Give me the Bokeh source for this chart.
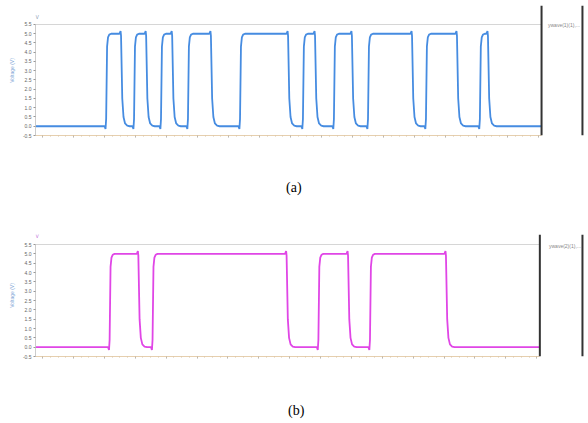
from bokeh.plotting import figure
from bokeh.models import (Span, Label, Legend, LegendItem, Div,
                          FixedTicker, SingleIntervalTicker)
from bokeh.layouts import column
from bokeh.embed import file_html
from bokeh.resources import INLINE

# ---------------- data ----------------
y_ticks = [-0.5, 0.0, 0.5, 1.0, 1.5, 2.0, 2.5, 3.0, 3.5, 4.0, 4.5, 5.0, 5.5]
y_tick_labels = ["-0.5", "0.0", "0.5", "1.0", "1.5", "2.0", "2.5",
                 "3.0", "3.5", "4.0", "4.5", "5.0", "5.5"]
y_min, y_max = -0.5, 5.5
t_start, t_end = -2.3, 161.0
v_low, v_high = 0.0, 5.0

# (a) rising / falling edge times
a_rise = [21.0, 30.0, 38.7, 47.4, 64.2, 84.5, 94.5, 105.5, 124.2, 141.6]
a_fall = [25.8, 33.9, 42.3, 54.8, 79.7, 88.4, 100.3, 119.7, 134.2, 144.2]
# (b) rising / falling edge times
b_rise = [22.2, 36.1, 89.8, 106.5]
b_fall = [31.5, 79.5, 99.4, 131.1]

# edge shape (time offset, voltage)
rise_dt = [-1.0, -0.7, -0.5, -0.2, 0.1, 0.5, 1.1]
rise_v = [0.0, -0.15, 0.4, 4.3, 4.8, 4.95, 5.0]
fall_dt = [-1.0, -0.65, -0.5, -0.1, 0.3, 0.8, 1.5, 2.3]
fall_v = [5.0, 5.15, 4.9, 1.5, 0.5, 0.15, 0.03, 0.0]

legend_a = "ywave(1)(1),..."
legend_b = "ywave(2)(1),..."
captions = ["(a)", "(b)"]
unit_text = "V"
y_label = "Voltage (V)"


def waveform(rises, falls):
    xs, ys = [t_start], [v_low]
    for r, f in zip(rises, falls):
        for dt, v in zip(rise_dt, rise_v):
            xs.append(r + dt)
            ys.append(v)
        for dt, v in zip(fall_dt, fall_v):
            xs.append(f + dt)
            ys.append(v)
    xs.append(t_end)
    ys.append(v_low)
    return xs, ys


def panel(rises, falls, color, unit_color, legend_text, height,
          borders, view_x_end, view_y_end, sep_x, legend_loc):
    bl, br, bt, bb = borders
    p = figure(width=588, height=height, x_range=(t_start, view_x_end),
               y_range=(y_min, view_y_end), output_backend="svg",
               toolbar_location=None, min_border_left=bl,
               min_border_right=br, min_border_top=bt, min_border_bottom=bb)
    p.xgrid.visible = False
    p.ygrid.visible = False
    p.outline_line_color = None
    p.background_fill_color = "white"

    # top rule of the plot area
    p.segment(x0=[t_start], y0=[y_max], x1=[t_end], y1=[y_max],
              line_color="#d6d6d6", line_width=1)

    xs, ys = waveform(rises, falls)
    p.line(xs, ys, line_color=color, line_width=1.8)
    dummy = p.vbar(x=[], top=[], width=1, fill_color=color, line_color=color)

    # separators of the viewer
    p.add_layout(Span(location=t_end, dimension="height",
                      line_color="#333333", line_width=2))
    p.add_layout(Span(location=sep_x, dimension="height",
                      line_color="#333333", line_width=2))

    # y axis
    yax = p.yaxis[0]
    yax.bounds = (y_min, y_max)
    yax.ticker = FixedTicker(ticks=y_ticks)
    yax.major_label_overrides = {t: l for t, l in zip(y_ticks, y_tick_labels)}
    yax.major_label_text_font_size = "5px"
    yax.major_label_text_color = "#666666"
    yax.major_label_standoff = 2
    yax.major_tick_out = 2
    yax.major_tick_in = 0
    yax.major_tick_line_color = "#999999"
    yax.minor_tick_line_color = None
    yax.axis_line_color = "#cccccc"
    yax.axis_label = y_label
    yax.axis_label_text_font_size = "5px"
    yax.axis_label_text_font_style = "normal"
    yax.axis_label_text_color = "#7fa6d6"
    yax.axis_label_standoff = 5

    # x axis (tick marks only)
    xax = p.xaxis[0]
    xax.bounds = (t_start, t_end)
    xax.ticker = SingleIntervalTicker(interval=10, num_minor_ticks=4)
    xax.major_label_text_font_size = "5px"
    xax.major_label_text_color = None
    xax.axis_line_color = "#e6cfae"
    xax.major_tick_line_color = "#aaaaaa"
    xax.major_tick_out = 2
    xax.major_tick_in = 0
    xax.minor_tick_line_color = "#d8c4a8"
    xax.minor_tick_out = 1
    xax.minor_tick_in = 0

    leg = Legend(items=[LegendItem(label=legend_text, renderers=[dummy])],
                 location=legend_loc, glyph_width=2, glyph_height=6,
                 label_text_font_size="5px", label_text_color="#888888",
                 label_standoff=2, label_height=6, padding=1, margin=0,
                 spacing=0, border_line_color=None,
                 background_fill_alpha=0)
    p.add_layout(leg)

    # unit mark at the top of the voltage axis
    p.add_layout(Label(x=t_start, y=5.93, text=unit_text,
                       text_font_size="5px", text_color=unit_color,
                       text_align="left", text_baseline="middle"))
    return p


def caption_div(text, height, indent):
    return Div(text=text, width=588, height=height, margin=0,
               styles={"font-family": "'Liberation Serif', 'Times New Roman', serif",
                       "font-size": "14px", "color": "black",
                       "line-height": f"{height}px", "text-indent": f"{indent}px",
                       "text-align": "left", "white-space": "nowrap"})


pa = panel(a_rise, a_fall, "#468ce1", "#8a9ab0", legend_a,
           165, (35, 4, 5, 30), 174.86, 6.527, 174.2, (509, 107))
pb = panel(b_rise, b_fall, "#e046e6", "#c070d8", legend_b,
           188, (34, 1, 24, 42), 175.46, 6.036, 174.8, (510, 107))

layout = column(pa, caption_div(captions[0], 45, 286),
                pb, caption_div(captions[1], 25, 288), spacing=0)
open("out.html", "w").write(file_html(layout, INLINE))
